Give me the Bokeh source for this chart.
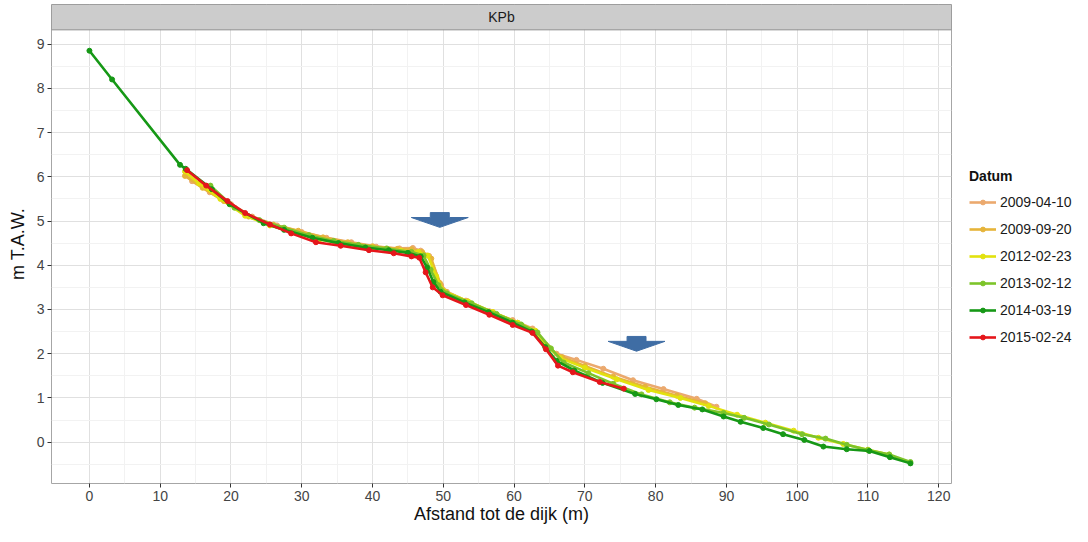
from bokeh.plotting import figure
from bokeh.models import FixedTicker, Legend, LegendItem, Range1d
from bokeh.layouts import row
from bokeh.embed import file_html
from bokeh.resources import INLINE
from bokeh.core.properties import value

# ---------------- data ----------------
dates = ["2009-04-10", "2009-09-20", "2012-02-23", "2013-02-12", "2014-03-19", "2015-02-24"]
colors = ["#EBA96E", "#E6B43A", "#E2E20E", "#7DC42A", "#169816", "#E5161B"]

x_2009_04_10 = [13.8, 14.5, 17.0, 20.0, 23.0, 26.5, 30.0, 33.5, 37.0, 40.5, 43.8, 45.7, 46.8, 48.0, 49.7,
                50.5, 53.2, 56.5, 59.8, 62.6, 64.5, 66.0, 68.8, 72.6, 76.8, 81.1, 85.8, 88.6]
y_2009_04_10 = [6.06, 5.90, 5.65, 5.38, 5.10, 4.90, 4.75, 4.62, 4.52, 4.42, 4.38, 4.39, 4.33, 4.21, 3.55,
                3.40, 3.20, 2.96, 2.76, 2.57, 2.20, 2.00, 1.86, 1.66, 1.40, 1.20, 0.98, 0.80]

x_2009_09_20 = [13.5, 16.0, 19.0, 22.5, 26.0, 29.5, 33.0, 36.5, 40.0, 43.5, 45.5, 47.0, 48.3, 49.5, 50.3,
                53.5, 57.0, 60.5, 63.0, 65.0, 66.8, 70.0, 74.0, 78.5, 83.0, 87.0]
y_2009_09_20 = [6.02, 5.75, 5.45, 5.10, 4.92, 4.78, 4.63, 4.52, 4.43, 4.37, 4.36, 4.30, 4.15, 3.60, 3.40,
                3.18, 2.94, 2.70, 2.50, 2.12, 1.92, 1.72, 1.48, 1.25, 1.05, 0.88]

x_2012_02_23 = [13.5, 15.5, 18.5, 22.0, 25.5, 29.0, 32.5, 36.0, 40.0, 44.0, 46.5, 47.8, 49.0, 50.0, 53.5,
                57.0, 60.5, 63.0, 64.8, 66.5, 70.0, 74.5, 79.0, 83.5, 87.5, 91.5, 95.5, 99.5, 103.0, 106.5,
                110.0, 113.0]
y_2012_02_23 = [6.12, 5.85, 5.50, 5.12, 4.90, 4.74, 4.58, 4.48, 4.40, 4.33, 4.30, 4.22, 3.75, 3.42, 3.18,
                2.94, 2.70, 2.52, 2.15, 1.90, 1.68, 1.42, 1.18, 1.00, 0.82, 0.62, 0.44, 0.26, 0.10, -0.04,
                -0.17, -0.28]

x_2013_02_12 = [17.1, 20.5, 24.0, 27.5, 31.0, 34.5, 38.0, 42.0, 45.5, 47.2, 48.2, 49.3, 50.5, 54.0, 57.5,
                61.0, 63.3, 65.2, 67.0, 70.5, 74.0, 78.0, 82.0, 85.5, 89.6, 92.5, 96.0, 100.7, 104.0, 107.0,
                110.0, 113.0, 116.0]
y_2013_02_12 = [5.80, 5.30, 5.02, 4.85, 4.68, 4.55, 4.46, 4.38, 4.30, 4.22, 3.90, 3.55, 3.36, 3.14, 2.90,
                2.66, 2.48, 2.12, 1.80, 1.56, 1.32, 1.08, 0.90, 0.78, 0.66, 0.55, 0.40, 0.18, 0.08, -0.06,
                -0.18, -0.28, -0.45]

x_2014_03_19 = [0.0, 3.2, 12.8, 13.6, 17.3, 19.8, 24.6, 27.5, 31.5, 35.2, 39.0, 42.3, 45.0, 46.8, 47.7,
                48.6, 49.6, 53.0, 56.4, 59.8, 62.5, 64.4, 66.0, 68.5, 72.5, 77.1, 80.1, 83.2, 86.6, 89.6,
                92.0, 95.2, 98.0, 101.0, 103.7, 107.0, 110.2, 113.1, 116.0]
y_2014_03_19 = [8.85, 8.20, 6.27, 6.18, 5.72, 5.38, 4.95, 4.80, 4.62, 4.50, 4.40, 4.34, 4.28, 4.20, 3.95,
                3.62, 3.40, 3.16, 2.94, 2.70, 2.50, 2.15, 1.84, 1.62, 1.34, 1.09, 0.97, 0.84, 0.74, 0.58,
                0.46, 0.32, 0.18, 0.05, -0.10, -0.16, -0.20, -0.34, -0.48]

x_2015_02_24 = [13.8, 16.5, 19.5, 22.0, 25.5, 28.5, 32.0, 35.5, 39.5, 43.0, 45.5, 46.6, 47.5, 48.5, 49.9,
                53.2, 56.5, 59.8, 62.6, 64.5, 66.2, 68.3, 72.1, 75.5]
y_2015_02_24 = [6.15, 5.80, 5.45, 5.18, 4.92, 4.72, 4.52, 4.44, 4.34, 4.27, 4.20, 4.17, 3.84, 3.50, 3.32,
                3.10, 2.88, 2.65, 2.47, 2.10, 1.73, 1.58, 1.36, 1.21]

series_x = [x_2009_04_10, x_2009_09_20, x_2012_02_23, x_2013_02_12, x_2014_03_19, x_2015_02_24]
series_y = [y_2009_04_10, y_2009_09_20, y_2012_02_23, y_2013_02_12, y_2014_03_19, y_2015_02_24]

x_ticks = [0, 10, 20, 30, 40, 50, 60, 70, 80, 90, 100, 110, 120]
x_minor = [5, 15, 25, 35, 45, 55, 65, 75, 85, 95, 105, 115]
y_ticks = [0, 1, 2, 3, 4, 5, 6, 7, 8, 9]
y_minor = [-0.5, 0.5, 1.5, 2.5, 3.5, 4.5, 5.5, 6.5, 7.5, 8.5]

panel_title = "KPb"
x_label = "Afstand tot de dijk (m)"
y_label = "m T.A.W."
legend_title = "Datum"

# annotation arrows (centre x, top y)
arrow_x = [49.5, 77.3]
arrow_top = [5.19, 2.39]

# ---------------- main figure ----------------
FONT = "Liberation Sans"
x0, x1 = -5.36, 121.8
y0, panel_top, y1 = -0.935, 9.31, 9.895

p = figure(width=952, height=526, title=None,
           x_range=Range1d(x0, x1), y_range=Range1d(y0, y1),
           output_backend="svg", toolbar_location=None,
           min_border_left=51, min_border_right=1, min_border_top=4, min_border_bottom=40)

p.background_fill_color = "white"
p.border_fill_color = "white"
p.outline_line_color = "#A6A6A6"
p.outline_line_width = 1

for ax, ticks, minor in ((p.xaxis[0], x_ticks, x_minor), (p.yaxis[0], y_ticks, y_minor)):
    ax.ticker = FixedTicker(ticks=ticks, minor_ticks=minor)
    ax.axis_line_color = None
    ax.major_tick_in = 0
    ax.major_tick_out = 4
    ax.major_tick_line_color = "#333333"
    ax.minor_tick_line_color = None
    ax.major_label_text_font = FONT
    ax.major_label_text_font_size = "14px"
    ax.major_label_text_color = "#444444"
    ax.major_label_standoff = 3
    ax.axis_label_text_font = FONT
    ax.axis_label_text_font_size = "18px"
    ax.axis_label_text_font_style = "normal"
    ax.axis_label_text_color = "#111111"
    ax.axis_label_standoff = 0

p.xaxis.axis_label = x_label
p.yaxis.axis_label = y_label
p.yaxis.axis_label_standoff = 6

for g in (p.xgrid[0], p.ygrid[0]):
    g.grid_line_color = "#E0E0E0"
    g.grid_line_width = 1
    g.minor_grid_line_color = "#F2F2F2"
    g.minor_grid_line_width = 1

# facet strip
p.quad(left=[x0], right=[x1], bottom=[panel_top + 0.012], top=[y1],
       fill_color="#CCCCCC", line_color="#8C8C8C", line_width=1)
p.text(x=[(x0 + x1) / 2], y=[(panel_top + y1) / 2], text=[panel_title],
       text_font=value(FONT), text_font_size="14px", text_color="#1A1A1A",
       text_align="center", text_baseline="middle")

# series
for d, c, xs, ys in zip(dates, colors, series_x, series_y):
    p.line(xs, ys, line_color=c, line_width=2.6)
    p.scatter(xs, ys, marker="circle", size=5, fill_color=c, line_color=c)

# arrows
ax_pts, ay_pts = [], []
hw, sw, sh, th = 4.02, 1.34, 0.111, 0.223
for cx, ty in zip(arrow_x, arrow_top):
    ax_pts.append([cx - sw, cx + sw, cx + sw, cx + hw, cx, cx - hw, cx - sw])
    ay_pts.append([ty, ty, ty - sh, ty - sh, ty - sh - th, ty - sh, ty - sh])
p.patches(ax_pts, ay_pts, fill_color="#3F6DA4", line_color="#3F6DA4", line_width=1)

# ---------------- legend panel ----------------
# legend renderers use the same series, but this panel's ranges keep them out of view
lg = figure(width=120, height=526, title=None, output_backend="svg", toolbar_location=None,
            x_range=Range1d(1000, 1001), y_range=Range1d(1000, 1001),
            min_border_left=0, min_border_right=0, min_border_top=0, min_border_bottom=0)
lg.axis.visible = False
lg.grid.visible = False
lg.outline_line_color = None
lg.background_fill_color = "white"
lg.border_fill_color = "white"

items = []
for d, c, xs, ys in zip(dates, colors, series_x, series_y):
    lr = lg.line(xs, ys, line_color=c, line_width=2.6)
    sr = lg.scatter(xs, ys, marker="circle", fill_color=c, line_color=c)
    items.append(LegendItem(label=d, renderers=[lr, sr]))

legend = Legend(items=items, title=legend_title, location=(14, 130),
                padding=3, spacing=0, margin=0,
                glyph_width=27, glyph_height=12, label_height=27, label_standoff=4,
                title_text_font=FONT, title_text_font_size="14px", title_text_font_style="bold",
                title_text_color="#111111", title_standoff=4,
                label_text_font=FONT, label_text_font_size="14px", label_text_color="#1A1A1A",
                background_fill_alpha=0, border_line_alpha=0)
lg.add_layout(legend)

layout = row(p, lg, spacing=0)
open("out.html", "w").write(file_html(layout, INLINE))
